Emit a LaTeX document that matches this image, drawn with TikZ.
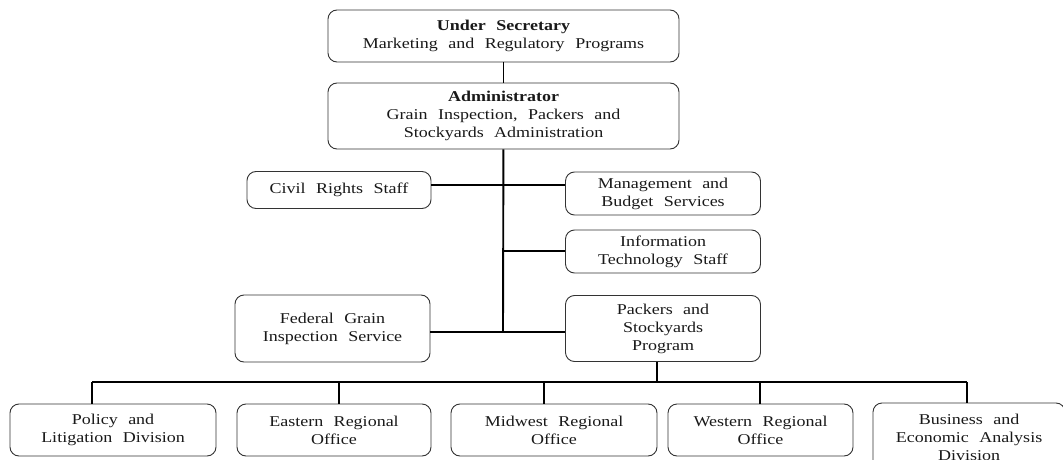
\documentclass[tikz,border=0pt]{standalone}
\usepackage{fontspec}
\setmainfont[FakeStretch=1.2]{Liberation Serif}
\usepackage{tikz}
\newcommand{\unitfont}{\fontsize{15}{18}\selectfont\spaceskip 0.7em plus 0.1em\relax}

\begin{document}
\begin{tikzpicture}[x=1pt,y=-1pt]
            \tikzstyle{unit}=[draw=black!80, line width=0.9pt, rounded corners=9pt, align=center, inner sep=0pt,
                font=\unitfont, text=black!90]
            \tikzstyle{link}=[line width=1.9pt, black]
            \clip (0,0) rectangle (1063,460);
            \node[unit, minimum width=351pt, minimum height=52pt] (usec) at (503.5,36) {\textbf{Under Secretary}\\Marketing and Regulatory Programs};
            \node[unit, minimum width=351pt, minimum height=66pt] (admin) at (503.5,116) {\textbf{Administrator}\\Grain Inspection, Packers and\\Stockyards Administration};
            \node[unit, minimum width=184pt, minimum height=37pt] (civil) at (339,190) {Civil Rights Staff};
            \node[unit, minimum width=195pt, minimum height=43pt] (mgmt) at (663,193.5) {Management and\\Budget Services};
            \node[unit, minimum width=195pt, minimum height=43pt] (itstaff) at (663,251.5) {Information\\Technology Staff};
            \node[unit, minimum width=195pt, minimum height=67pt] (fgis) at (332.5,328.5) {Federal Grain\\Inspection Service};
            \node[unit, minimum width=195pt, minimum height=66pt] (psp) at (663,328.5) {Packers and\\Stockyards\\Program};
            \node[unit, minimum width=206pt, minimum height=52pt] (policy) at (113,430) {Policy and\\Litigation Division};
            \node[unit, minimum width=194pt, minimum height=52pt] (eastern) at (334,430) {Eastern Regional\\Office};
            \node[unit, minimum width=206pt, minimum height=52pt] (midwest) at (554,430) {Midwest Regional\\Office};
            \node[unit, minimum width=185pt, minimum height=52pt] (western) at (760.5,430) {Western Regional\\Office};
            \node[unit, minimum width=192pt, minimum height=68pt] (business) at (969,437) {Business and\\Economic Analysis\\Division};
            \coordinate (jcivil) at (503,185);
            \coordinate (jit) at (503,251);
            \coordinate (jfgis) at (503,332);
            \coordinate (bus) at (657,382);
            \coordinate (busl) at (92,382);
            \coordinate (busr) at (967,382);
            \draw[link] (usec) -- (admin);
            \draw[link] (admin) -- (jfgis);
            \draw[link] (civil.east |- jcivil) -- (mgmt.west |- jcivil);
            \draw[link] (jit) -- (itstaff.west |- jit);
            \draw[link] (fgis.east |- jfgis) -- (psp.west |- jfgis);
            \draw[link] (psp.south -| bus) -- (bus);
            \draw[link] (busl) -- (busr);
            \draw[link] (busl) -- (busl |- policy.north);
            \draw[link] (339,382) -- (eastern.north -| 339,382);
            \draw[link] (544,382) -- (midwest.north -| 544,382);
            \draw[link] (760,382) -- (western.north -| 760,382);
            \draw[link] (busr) -- (busr |- business.north);
        \end{tikzpicture}
\end{document}
